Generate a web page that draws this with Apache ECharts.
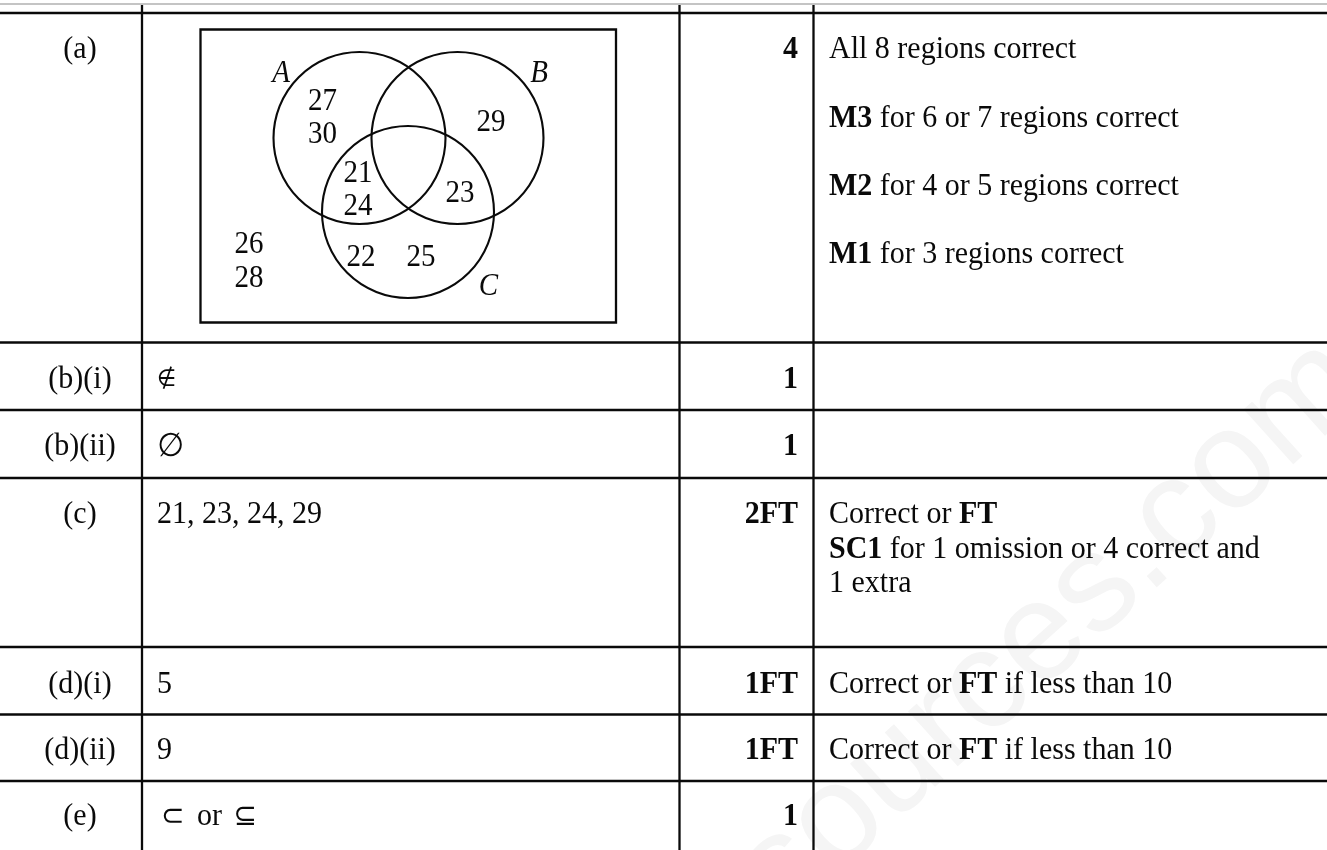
<!DOCTYPE html>
<html><head><meta charset="utf-8">
<script src="https://cdn.jsdelivr.net/npm/echarts@6/dist/echarts.min.js"></script>
<style>html,body{margin:0;padding:0;background:#fff;overflow:hidden}#c{width:1327px;height:850px}</style>
</head><body><div id="c"></div>
<script>
// ---------- data ----------
const rowLabels = ['(a)', '(b)(i)', '(b)(ii)', '(c)', '(d)(i)', '(d)(ii)', '(e)'];
const answers = ['', '∉', '∅', '21, 23, 24, 29', '5', '9', '⊂ or ⊆'];
const marks = ['4', '1', '1', '2FT', '1FT', '1FT', '1'];
const guidance = [
  ['All 8 regions correct', 'M3 for 6 or 7 regions correct', 'M2 for 4 or 5 regions correct', 'M1 for 3 regions correct'],
  [],
  [],
  ['Correct or FT', 'SC1 for 1 omission or 4 correct and', '1 extra'],
  ['Correct or FT if less than 10'],
  ['Correct or FT if less than 10'],
  []
];
const vennSets = ['A', 'B', 'C'];
const vennRegionNames = ['A only', 'B only', 'A∩C only', 'B∩C only', 'C only', 'outside'];
const vennRegionMembers = [['27', '30'], ['29'], ['21', '24'], ['23'], ['22', '25'], ['26', '28']];
const watermarkText = 'sources.com';

// ---------- layout ----------
const W = 1327, H = 850;
const topGrayY = 4;
const rowLineY = [13, 342.5, 410, 478, 647, 714.5, 781];
const colLineX = [142, 679.5, 813.5];
const rowTextY = [48, 378, 445, 513, 683, 749, 815];
const guideY = [[48, 117, 185, 253], [], [], [513, 548, 582], [683], [749], []];
const labelCX = 80, answerX = 157, markRX = 798, guideX = 829;
const textDY = 2, textScaleY = 1.06;
const vennBox = [200.5, 29.5, 616, 322.5];
const vennCircle = [[359.5, 138, 86], [457.5, 138, 86], [408, 212, 86]];
const vennSetPos = [[281, 72], [539, 72], [488.5, 285]];
const vennMemberPos = [
  [[322.5, 99.5], [322.5, 133]],
  [[491, 120.5]],
  [[358, 171.5], [358, 205]],
  [[460, 192]],
  [[361, 256], [421, 256]],
  [[249, 243], [249, 277]]
];
const wmPos = [757, 895], wmAngle = 42;

const FONT = '"Liberation Serif", "Times New Roman", serif';
const SYM = '"DejaVu Sans", sans-serif';
const FS = 30;
const INK = '#0a0a0a';

const rich = {
  b: { fontFamily: FONT, fontSize: FS, fontWeight: 'bold', fill: INK },
  ni: { fontFamily: SYM, fontSize: 22, fill: INK },
  em: { fontFamily: SYM, fontSize: 31, fill: INK },
  sub: { fontFamily: SYM, fontSize: 28, fill: INK, padding: [0, 5, 0, 4] }
};
function fmt(str) {
  return str.replace(/\b(M\d|SC\d|FT)\b/g, '{b|$1}')
            .replace(/∉/g, '{ni|∉}')
            .replace(/∅/g, '{em|∅}')
            .replace(/([⊂⊆])/g, '{sub|$1}');
}
function textEl(api, x, y, text, align, extra) {
  const p = api.coord([x, y + textDY]);
  return {
    type: 'text', x: p[0], y: p[1], scaleY: textScaleY,
    style: Object.assign({
      text: fmt(text), x: 0, y: 0,
      textAlign: align, textVerticalAlign: 'middle',
      fontFamily: FONT, fontSize: FS, fill: INK, rich: rich
    }, extra || {})
  };
}

const chart = echarts.init(document.getElementById('c'), null, { renderer: 'canvas', width: W, height: H });

chart.setOption({
  animation: false,
  backgroundColor: '#fff',
  grid: { left: 0, right: 0, top: 0, bottom: 0 },
  xAxis: { type: 'value', min: 0, max: W, show: false },
  yAxis: { type: 'value', min: 0, max: H, inverse: true, show: false },
  series: [
    { // watermark
      type: 'custom', coordinateSystem: 'cartesian2d', silent: true, z: 0,
      data: [[wmPos[0], wmPos[1]]],
      renderItem: function (params, api) {
        const p = api.coord([api.value(0), api.value(1)]);
        return {
          type: 'text', x: p[0], y: p[1], rotation: wmAngle * Math.PI / 180,
          style: { text: watermarkText, fontFamily: '"Liberation Sans", Arial, sans-serif',
            fontSize: 140, fill: '#f5f5f5', textAlign: 'left', textVerticalAlign: 'middle' }
        };
      }
    },
    { // table rules
      type: 'custom', coordinateSystem: 'cartesian2d', silent: true, z: 2,
      data: rowLineY.map((y, i) => [i]),
      renderItem: function (params, api) {
        const i = api.value(0);
        const children = [];
        const a = api.coord([0, rowLineY[i]]), b = api.coord([W, rowLineY[i]]);
        children.push({ type: 'line', shape: { x1: a[0], y1: a[1], x2: b[0], y2: b[1] }, style: { stroke: INK, lineWidth: 2.5 } });
        if (i === 0) {
          const g1 = api.coord([0, topGrayY]), g2 = api.coord([W, topGrayY]);
          children.push({ type: 'line', shape: { x1: g1[0], y1: g1[1], x2: g2[0], y2: g2[1] }, style: { stroke: '#c4c4c4', lineWidth: 2 } });
          colLineX.forEach(x => {
            const v1 = api.coord([x, topGrayY + 1]), v2 = api.coord([x, H]);
            children.push({ type: 'line', shape: { x1: v1[0], y1: v1[1], x2: v2[0], y2: v2[1] }, style: { stroke: INK, lineWidth: 2.3 } });
          });
        }
        return { type: 'group', children: children };
      }
    },
    { // cell texts
      type: 'custom', coordinateSystem: 'cartesian2d', silent: true, z: 3,
      data: rowLabels.map((r, i) => [i]),
      renderItem: function (params, api) {
        const i = api.value(0);
        const children = [];
        children.push(textEl(api, labelCX, rowTextY[i], rowLabels[i], 'center'));
        if (answers[i]) children.push(textEl(api, answerX, rowTextY[i], answers[i], 'left'));
        children.push(textEl(api, markRX, rowTextY[i], marks[i], 'right', { fontWeight: 'bold' }));
        guidance[i].forEach((g, k) => children.push(textEl(api, guideX, guideY[i][k], g, 'left')));
        return { type: 'group', children: children };
      }
    },
    { // venn frame + circles
      type: 'custom', coordinateSystem: 'cartesian2d', silent: true, z: 3,
      data: vennSets.map((s, i) => [i]),
      renderItem: function (params, api) {
        const i = api.value(0);
        const c = vennCircle[i];
        const p = api.coord([c[0], c[1]]);
        const r = api.size([c[2], 0])[0];
        const children = [
          { type: 'circle', shape: { cx: p[0], cy: p[1], r: r }, style: { fill: 'none', stroke: INK, lineWidth: 2.1 } },
          textEl(api, vennSetPos[i][0], vennSetPos[i][1], vennSets[i], 'center', { fontStyle: 'italic', fontSize: 29 })
        ];
        if (i === 0) {
          const t = api.coord([vennBox[0], vennBox[1]]), q = api.coord([vennBox[2], vennBox[3]]);
          children.push({ type: 'rect', shape: { x: t[0], y: t[1], width: q[0] - t[0], height: q[1] - t[1] }, style: { fill: 'none', stroke: INK, lineWidth: 2.3 } });
        }
        return { type: 'group', children: children };
      }
    },
    { // venn region members
      type: 'custom', coordinateSystem: 'cartesian2d', silent: true, z: 3,
      data: vennRegionNames.map((n, i) => [i]),
      renderItem: function (params, api) {
        const i = api.value(0);
        return { type: 'group', children: vennRegionMembers[i].map((m, k) =>
          textEl(api, vennMemberPos[i][k][0], vennMemberPos[i][k][1], m, 'center', { fontSize: 29 })) };
      }
    }
  ]
});
</script>
</body></html>
